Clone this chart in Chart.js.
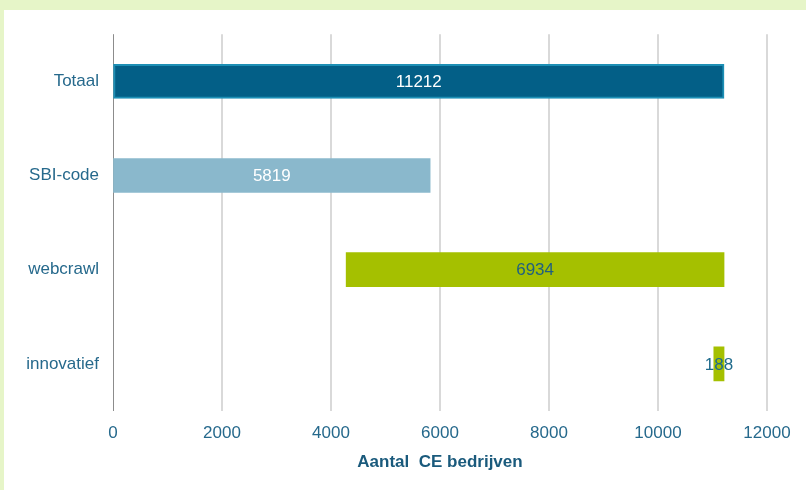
<!DOCTYPE html>
<html>
<head>
<meta charset="utf-8">
<script src="https://cdn.jsdelivr.net/npm/chart.js@4/dist/chart.umd.min.js"></script>
<style>
  html, body { margin: 0; padding: 0; }
  body { width: 806px; height: 490px; background: #e6f5c8; overflow: hidden; }
  #wrap { position: absolute; left: 4px; top: 10px; width: 802px; height: 480px; background: #fff; }
</style>
</head>
<body>
<div id="wrap"><canvas id="chart"></canvas></div>
<script>
  // categories and values
  var categories = ['Totaal', 'SBI-code', 'webcrawl', 'innovatief'];
  var starts = [0, 0, 4278, 11024];
  var counts = [11212, 5819, 6934, 188];
  var xTicks = [0, 2000, 4000, 6000, 8000, 10000, 12000];

  var barColors = ['#035f87', '#8ab8cc', '#a5c000', '#a5c000'];
  var borderColors = ['#1d8fb5', '#8ab8cc', '#a5c000', '#a5c000'];
  var labelColors = ['#ffffff', '#ffffff', '#1f5f80', '#1f6b8c'];
  var textColor = '#26698c';
  var fontFamily = '"Liberation Sans", Arial, sans-serif';

  var ranges = starts.map(function (s, i) { return [s, s + counts[i]]; });

  var barLabels = {
    id: 'barLabels',
    afterDatasetsDraw: function (chart) {
      var ctx = chart.ctx;
      var meta = chart.getDatasetMeta(0);
      ctx.save();
      ctx.font = '17px ' + fontFamily;
      ctx.textAlign = 'center';
      ctx.textBaseline = 'middle';
      meta.data.forEach(function (bar, i) {
        var cx = (bar.x + bar.base) / 2;
        ctx.fillStyle = labelColors[i];
        ctx.fillText(String(counts[i]), cx, bar.y + 1);
      });
      ctx.restore();
    }
  };

  new Chart(document.getElementById('chart'), {
    type: 'bar',
    data: {
      labels: categories,
      datasets: [{
        data: ranges,
        backgroundColor: barColors,
        borderColor: borderColors,
        borderWidth: [2, 0, 0, 0],
        borderSkipped: false,
        barThickness: 34
      }]
    },
    options: {
      indexAxis: 'y',
      responsive: true,
      maintainAspectRatio: false,
      animation: false,
      layout: { padding: { top: 22, right: 39, bottom: 0, left: 0 } },
      plugins: { legend: { display: false }, tooltip: { enabled: false } },
      scales: {
        x: {
          min: 0, max: 12000,
          afterBuildTicks: function (scale) { scale.ticks = xTicks.map(function (v) { return { value: v }; }); },
          afterFit: function (scale) { scale.height = 79; },
          grid: {
            color: function (c) { return c.tick && c.tick.value === 0 ? '#8c8c8c' : '#d9d9d9'; },
            lineWidth: function (c) { return c.tick && c.tick.value === 0 ? 1 : 2; },
            drawTicks: false
          },
          border: { display: false },
          ticks: {
            color: textColor, padding: 12,
            font: { family: fontFamily, size: 17 },
            callback: function (v) { return String(v); }
          },
          title: {
            display: true, text: 'Aantal  CE bedrijven', color: '#1a5a7c',
            font: { family: fontFamily, size: 17, weight: 'bold' },
            padding: { top: 8, bottom: 17 }
          }
        },
        y: {
          afterFit: function (scale) { scale.width = 109; },
          grid: { display: false, drawTicks: false },
          border: { display: false },
          ticks: {
            color: textColor, padding: 14,
            font: { family: fontFamily, size: 17 }
          }
        }
      }
    },
    plugins: [barLabels]
  });
</script>
</body>
</html>
